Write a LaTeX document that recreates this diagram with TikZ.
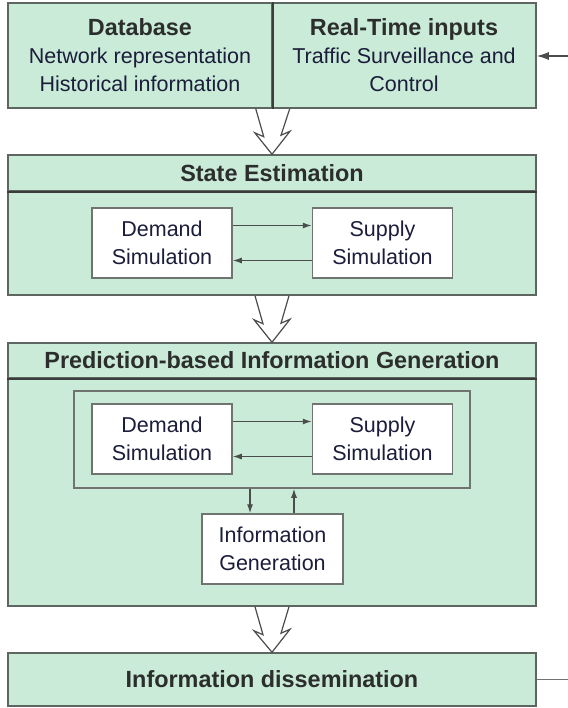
\documentclass[tikz,border=0pt]{standalone}
\usepackage{fontspec}
\setmainfont{Liberation Sans}
\usetikzlibrary{calc,arrows.meta}
\definecolor{boxgreen}{HTML}{C9EBD8}
\definecolor{panelline}{HTML}{5E6661}
\definecolor{divline}{HTML}{3A3D3B}
\definecolor{simline}{HTML}{6F7471}
\definecolor{arrowgray}{HTML}{4A4D4B}
\definecolor{txtblue}{HTML}{1B1D3A}
\definecolor{txtgray}{HTML}{2C2D2D}
\newcommand{\normaltext}{\fontsize{21.5bp}{28bp}\selectfont}
\newcommand{\titletext}{\bfseries\fontsize{23.4bp}{28bp}\selectfont}
\newcommand{\hollowarrow}[2]{%
  \draw[hollow] ($(#1)+(-17,0)$) -- ++(8,28) -- ++(-9,-4) -- (#2) -- ++(18,-23) -- ++(-9,4) -- ($(#1)+(17,0)$);}
\begin{document}
\begin{tikzpicture}[x=1bp,y=-1bp,
	panel/.style={rectangle,draw=panelline,line width=1.5bp,fill=boxgreen,minimum width=528bp,inner sep=0pt},
	half/.style={panel,minimum width=264bp,minimum height=105bp,align=center,font=\normaltext,text=txtblue},
	title/.style={font=\titletext,text=txtgray},
	sim/.style={rectangle,draw=simline,line width=1.5bp,fill=white,minimum width=140bp,minimum height=70bp,align=center,font=\normaltext,text=txtblue,inner sep=0pt},
	divider/.style={draw=divline,line width=1.5bp},
	flow/.style={draw=arrowgray,line width=1.2bp,-{Latex[length=9bp,width=6bp]}},
	hollow/.style={draw=arrowgray,line width=1.2bp,line join=miter}]
\useasboundingbox (0,0) rectangle (568,708);

\node[half] (db) at (140,55.5) {{\titletext\color{txtgray}Database}\\Network representation\\Historical information};
\node[half] (rt) at (404,55.5) {{\titletext\color{txtgray}Real-Time inputs}\\Traffic Surveillance and\\Control};
\draw[divider] (db.north east) -- (db.south east);

\node[panel,minimum height=36bp,title] (se) at (272,173) {State Estimation};
\node[panel,minimum height=104bp] (seb) at (272,243) {};
\draw[divider] (se.south west) -- (se.south east);
\node[sim] (d1) at (162,243) {Demand\\Simulation};
\node[sim] (s1) at (382.5,243) {Supply\\Simulation};
\draw[flow] ([yshift=17.5bp]d1.east) -- ([yshift=17.5bp]s1.west);
\draw[flow] ([yshift=-17.5bp]s1.west) -- ([yshift=-17.5bp]d1.east);

\node[panel,minimum height=35bp,title] (pb) at (272,360.5) {Prediction-based Information Generation};
\node[panel,minimum height=228bp] (pbb) at (272,492) {};
\draw[divider] (pb.south west) -- (pb.south east);
\node[rectangle,draw=simline,line width=1.5bp,minimum width=396bp,minimum height=97bp] (fr) at (272,439.5) {};
\node[sim] (d2) at (162,439) {Demand\\Simulation};
\node[sim] (s2) at (382.5,439) {Supply\\Simulation};
\draw[flow] ([yshift=17.5bp]d2.east) -- ([yshift=17.5bp]s2.west);
\draw[flow] ([yshift=-17.5bp]s2.west) -- ([yshift=-17.5bp]d2.east);
\node[sim,minimum width=141bp] (ig) at (272.5,549) {Information\\Generation};
\draw[flow] ([xshift=-22bp]fr.south) -- ([xshift=-22bp]fr.south |- ig.north);
\draw[flow] ([xshift=22bp]fr.south |- ig.north) -- ([xshift=22bp]fr.south);

\node[panel,minimum height=53bp,title] (dis) at (272,679.5) {Information dissemination};

\coordinate (src) at (568,56);
\coordinate (dst) at (568,679.5);
\draw[draw=arrowgray,line width=1.2bp,-{Latex[length=12bp,width=8bp]}] (src) -- (src -| rt.east);
\draw[draw=simline,line width=1.2bp] (dis.east) -- (dst);

\hollowarrow{db.south east}{se.north}
\hollowarrow{seb.south}{pb.north}
\hollowarrow{pbb.south}{dis.north}
\end{tikzpicture}
\end{document}
